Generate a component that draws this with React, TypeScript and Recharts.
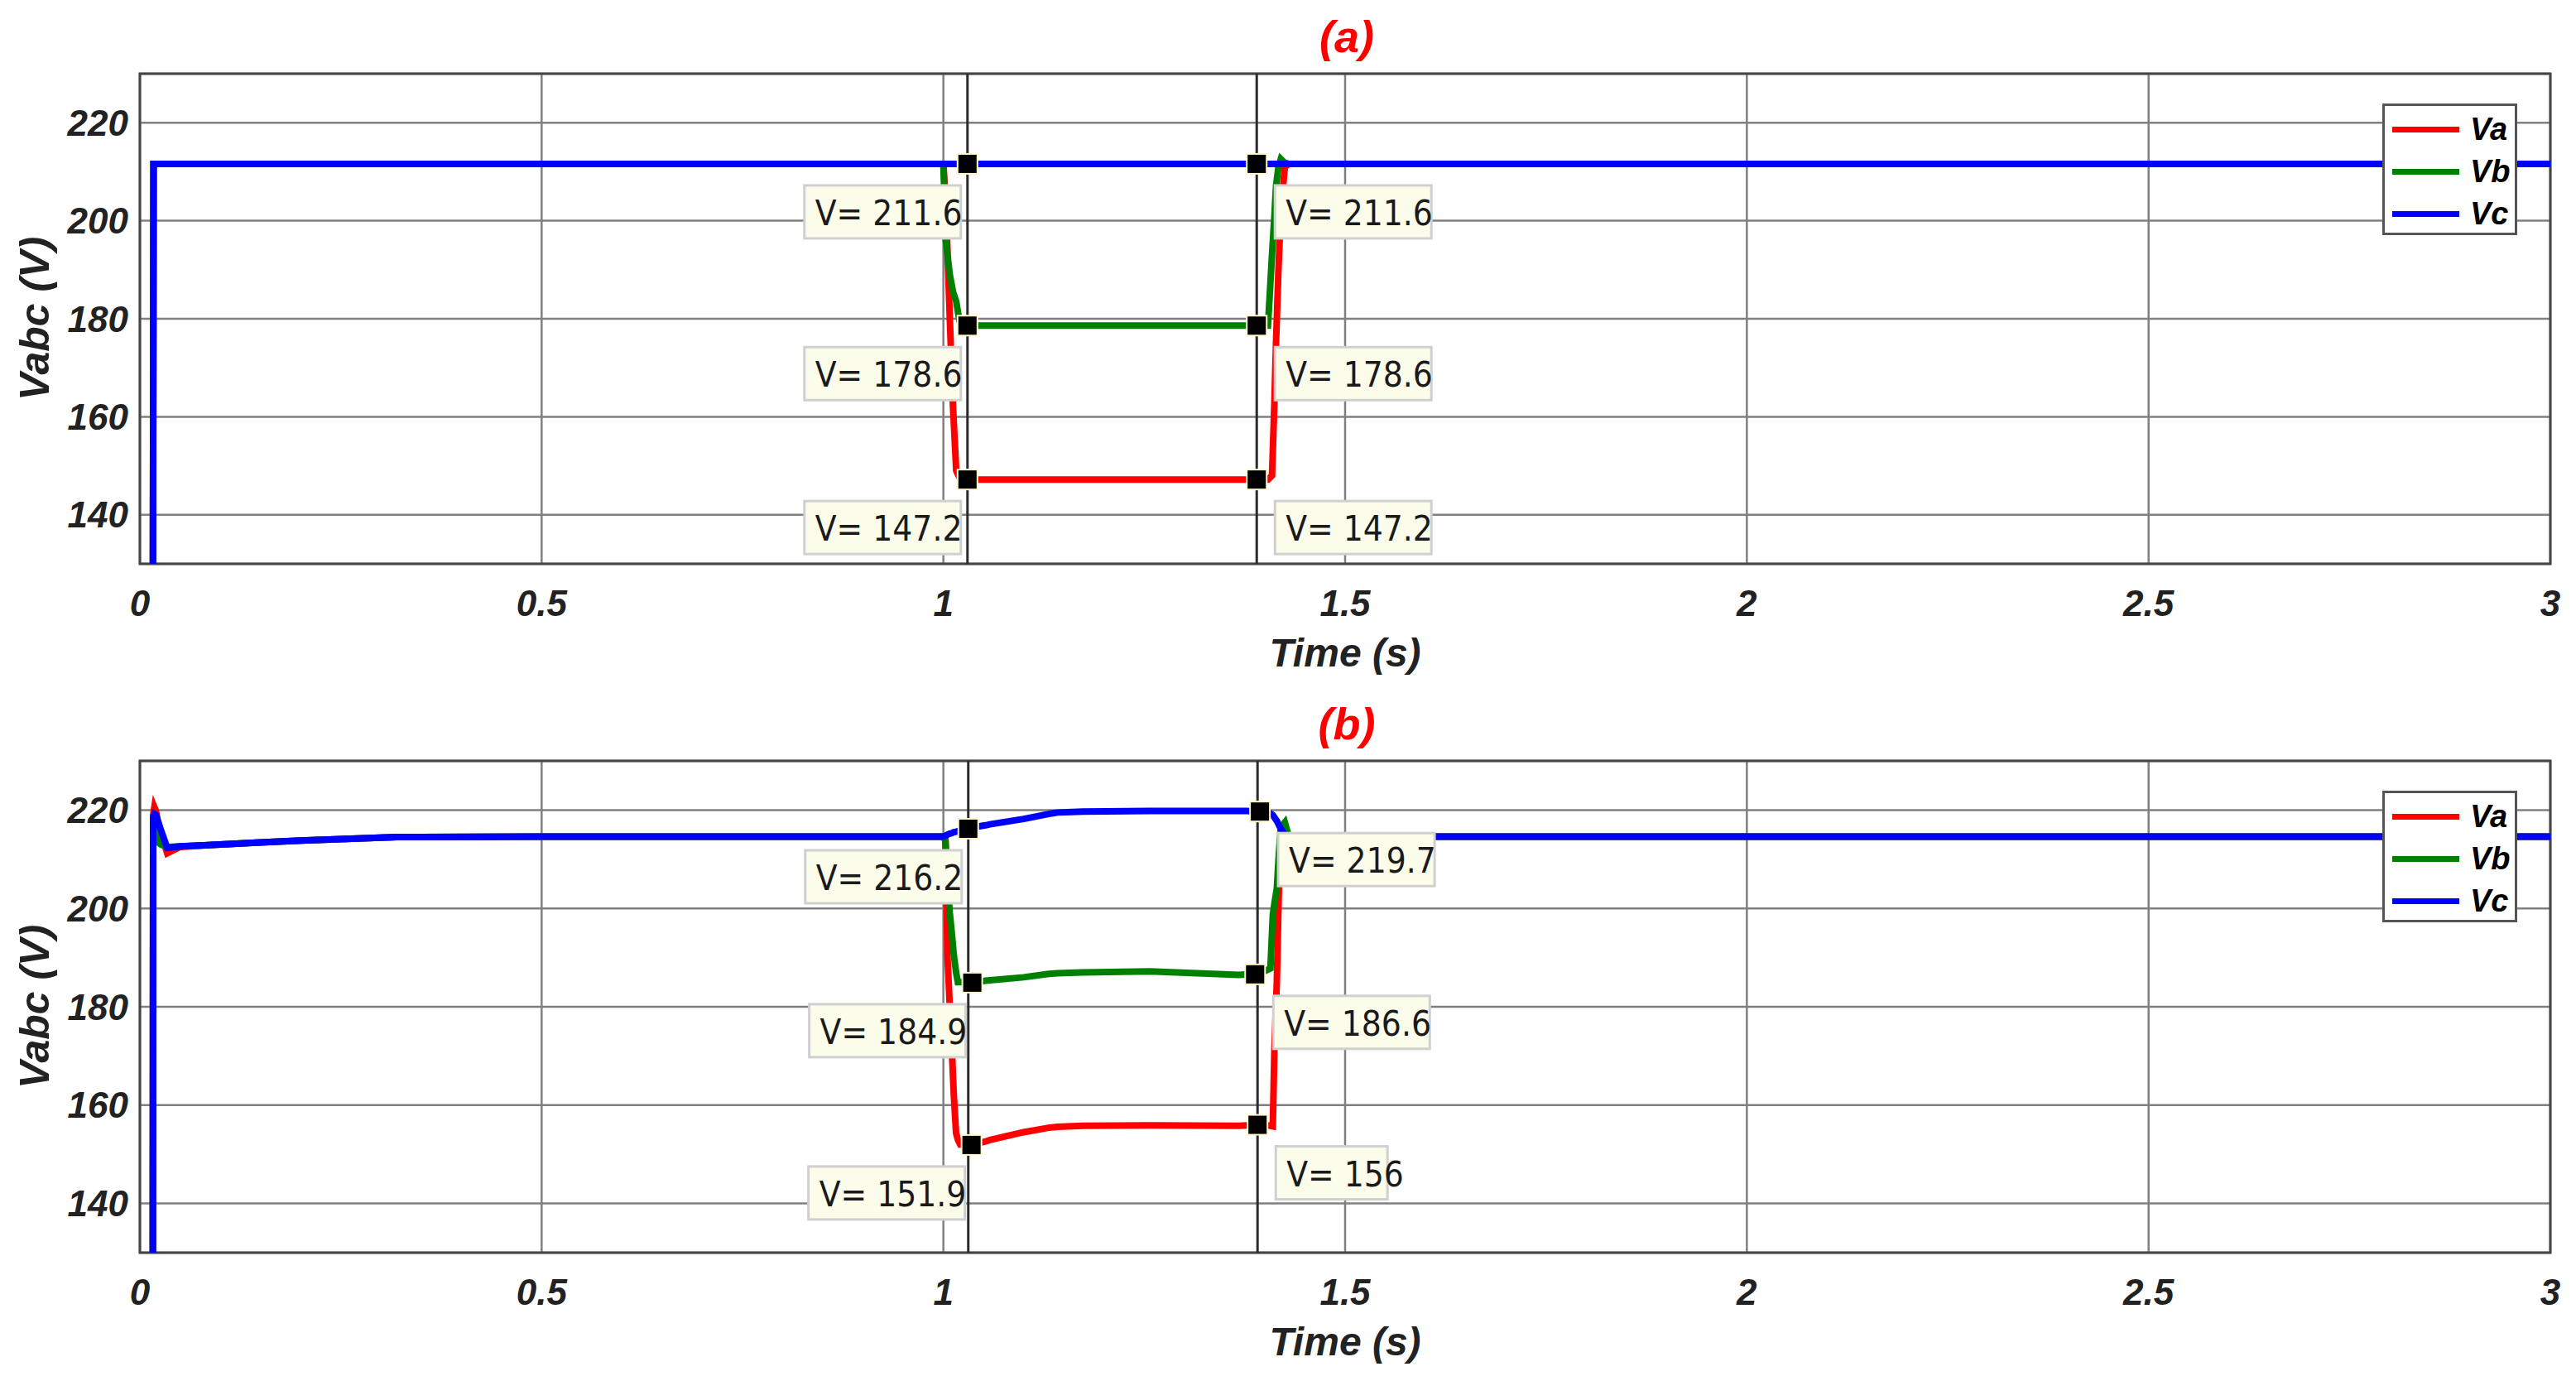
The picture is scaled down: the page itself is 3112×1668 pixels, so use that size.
import React from "react";
import {
  LineChart,
  Line,
  XAxis,
  YAxis,
  CartesianGrid,
  ReferenceLine,
  ReferenceDot,
  ReferenceArea,
  Legend,
  Label,
} from "recharts";

// time axis and tick values
const X_TICKS = [0, 0.5, 1, 1.5, 2, 2.5, 3];
const Y_TICKS = [140, 160, 180, 200, 220];

// (a) sampled waveform
const T_A = [0.016, 0.017, 0.5, 1.0, 1.003, 1.008, 1.012, 1.016, 1.02, 1.025, 1.03, 1.39, 1.395, 1.404, 1.409, 1.412, 1.414, 1.417, 1.42, 1.425, 1.43, 3.0];
const VA_A = [100, 211.6, 211.6, 211.6, 204, 180, 162, 149, 147.6, 147.3, 147.2, 147.2, 147.2, 147.2, 148, 163, 175, 190, 202, 211, 211.6, 211.6];
const VB_A = [100, 211.6, 211.6, 211.6, 196, 189, 185.5, 183.5, 179.6, 178.8, 178.6, 178.6, 178.6, 178.6, 193, 201, 207, 211, 212.6, 211.8, 211.6, 211.6];
const VC_A = [100, 211.6, 211.6, 211.6, 211.6, 211.6, 211.6, 211.6, 211.6, 211.6, 211.6, 211.6, 211.6, 211.6, 211.6, 211.6, 211.6, 211.6, 211.6, 211.6, 211.6, 211.6];

// (b) sampled waveform
const T_B = [0.016, 0.0165, 0.018, 0.02, 0.022, 0.026, 0.034, 0.05, 0.1, 0.15, 0.2, 0.25, 0.32, 0.5, 1.0, 1.0026, 1.005, 1.008, 1.0105, 1.013, 1.0158, 1.018, 1.021, 1.031, 1.035, 1.037, 1.0525, 1.058, 1.1, 1.131, 1.142, 1.173, 1.257, 1.368, 1.378, 1.3876, 1.391, 1.394, 1.407, 1.41, 1.412, 1.415, 1.4175, 1.42, 1.425, 1.43, 3.0];
const VA_B = [100, 219, 220.6, 219.8, 218, 215.5, 211.2, 212.5, 213.0, 213.4, 213.8, 214.1, 214.5, 214.6, 214.6, 214.0, 190.5, 180, 171.4, 162, 154.3, 153, 152, 151.9, 151.9, 152, 152.6, 152.9, 154.5, 155.4, 155.6, 155.8, 155.9, 155.8, 155.9, 156, 156, 156, 155.8, 155.7, 171.4, 185, 203.5, 212.4, 214.6, 214.6, 214.6];
const VB_B = [100, 218, 219, 217, 213.5, 213, 212.5, 212.6, 213, 213.4, 213.8, 214.1, 214.5, 214.6, 214.6, 213.7, 206, 199, 195, 190.5, 187, 185, 185, 185, 184.9, 184.9, 185.3, 185.4, 186, 186.7, 186.8, 187, 187.2, 186.5, 186.6, 186.6, 186.7, 186.8, 187.8, 198.7, 201, 204, 211, 216.5, 217.5, 214.6, 214.6];
const VC_B = [100, 218.5, 219.2, 219, 218, 216, 212.3, 212.6, 213.0, 213.4, 213.8, 214.1, 214.5, 214.6, 214.6, 214.8, 215, 215.2, 215.3, 215.5, 215.6, 215.7, 215.9, 216.2, 216.4, 216.5, 216.9, 217.1, 218.2, 219.2, 219.5, 219.7, 219.8, 219.8, 219.8, 219.7, 219.7, 219.7, 219.3, 219.0, 218.5, 217.8, 217, 216.2, 215, 214.6, 214.6];

// data tips
const TIP_T_A = [1.03, 1.03, 1.03, 1.39, 1.39, 1.39];
const TIP_V_A = [211.6, 178.6, 147.2, 211.6, 178.6, 147.2];
const CURSOR_A = [1.03, 1.39];
const TIP_T_B = [1.031, 1.036, 1.035, 1.394, 1.388, 1.391];
const TIP_V_B = [216.2, 184.9, 151.9, 219.7, 186.6, 156];
const CURSOR_B = [1.031, 1.391];

const FONT = "'Liberation Sans', Arial, sans-serif";
const TIP_FONT = "'DejaVu Sans Condensed', 'DejaVu Sans', sans-serif";

function XTick({ x, y, payload }: any) {
  return (
    <text x={x} y={y + 47} textAnchor="middle" dominantBaseline="central" fontFamily={FONT}
      fontWeight="bold" fontStyle="italic" fontSize={44} fill="#222">
      {String(payload.value)}
    </text>
  );
}

function YTick({ x, y, payload }: any) {
  return (
    <text x={x - 14} y={y} textAnchor="end" dominantBaseline="central" fontFamily={FONT}
      fontWeight="bold" fontStyle="italic" fontSize={44} fill="#222">
      {String(payload.value)}
    </text>
  );
}

function tipShape(v: number, right: boolean) {
  return (p: any) => {
    const { cx, cy } = p;
    const txt = `V= ${v}`;
    const w = 27 * (txt.length - 1);
    const bx = right ? cx + 22 : cx - 8 - w;
    const by = cy + 26;
    return (
      <g>
        <rect x={bx} y={by} width={w} height={64} fill="#fcfcea" stroke="#d0d0d0" strokeWidth={3} />
        <text x={bx + 13} y={by + 48} fontFamily={TIP_FONT} fontStretch="condensed" fontSize={42} fill="#1a1a1a">
          {txt}
        </text>
        <rect x={cx - 12} y={cy - 12} width={24} height={24} fill="#000" stroke="#fff8c8" strokeWidth={2} />
      </g>
    );
  };
}

function LegendBox({ payload }: any) {
  return (
    <div style={{ width: 163, height: 159, boxSizing: "border-box", border: "3px solid #555", background: "#fff", position: "relative" }}>
      {(payload || []).map((e: any, i: number) => (
        <div key={e.value} style={{ position: "absolute", left: 9, top: 28 + 51 * i - 20, height: 40, display: "flex", alignItems: "center" }}>
          <span style={{ display: "inline-block", width: 81, height: 7, background: e.color }} />
          <span style={{ marginLeft: 13, fontFamily: FONT, fontWeight: "bold", fontStyle: "italic", fontSize: 38, color: "#000" }}>
            {e.value}
          </span>
        </div>
      ))}
    </div>
  );
}

function Panel({ t, va, vb, vc, tipT, tipV, cursors, height, title }: any) {
  const rows = t.map((x: number, i: number) => ({ t: x, va: va[i], vb: vb[i], vc: vc[i] }));
  const axisH = height - 89 - 592 - (height > 832 ? 2 : 0);
  return (
    <div style={{ position: "relative", width: 3112, height }}>
      <div style={{ position: "absolute", left: 1527, top: 14, width: 200, textAlign: "center", lineHeight: "60px",
        fontFamily: FONT, fontWeight: "bold", fontStyle: "italic", fontSize: 54, color: "#ff0000" }}>
        {title}
      </div>
      <LineChart width={3112} height={height} data={rows} margin={{ top: 89, right: 31, left: 0, bottom: 0 }}>
        <CartesianGrid stroke="#808080" strokeWidth={2.5} />
        <XAxis dataKey="t" type="number" domain={[0, 3]} ticks={X_TICKS} allowDataOverflow
          tick={<XTick />} tickSize={0} tickMargin={0} axisLine={false} height={axisH}>
          <Label content={(p: any) => {
            const vb2 = p.viewBox;
            return (
              <text x={vb2.x + vb2.width / 2} y={vb2.y + 107} textAnchor="middle" dominantBaseline="central"
                fontFamily={FONT} fontWeight="bold" fontStyle="italic" fontSize={48} fill="#222">
                Time (s)
              </text>
            );
          }} />
        </XAxis>
        <YAxis type="number" domain={[130, 230]} ticks={Y_TICKS} allowDataOverflow width={169}
          tick={<YTick />} tickSize={0} tickMargin={0} axisLine={false}>
          <Label content={(p: any) => {
            const vb2 = p.viewBox;
            const cy = vb2.y + vb2.height / 2;
            return (
              <text x={42} y={cy} textAnchor="middle" dominantBaseline="central" transform={`rotate(-90 42 ${cy})`}
                fontFamily={FONT} fontWeight="bold" fontStyle="italic" fontSize={50} fill="#222">
                Vabc (V)
              </text>
            );
          }} />
        </YAxis>
        {cursors.map((c: number) => (
          <ReferenceLine key={c} x={c} stroke="#2b2b2b" strokeWidth={3} />
        ))}
        <Legend layout="horizontal" align="center" verticalAlign="middle" content={<LegendBox />}
          wrapperStyle={{ position: "absolute", left: 2878, top: 125, width: 163, height: 159 }} />
        <Line type="linear" dataKey="va" name="Va" stroke="#ff0000" strokeWidth={8} dot={false} isAnimationActive={false} />
        <Line type="linear" dataKey="vb" name="Vb" stroke="#008000" strokeWidth={8} dot={false} isAnimationActive={false} />
        <Line type="linear" dataKey="vc" name="Vc" stroke="#0000ff" strokeWidth={8} dot={false} isAnimationActive={false} />
        <ReferenceArea x1={0} x2={3} y1={130} y2={230} fill="none" stroke="#444" strokeWidth={3} />
        {tipT.map((x: number, i: number) => (
          <ReferenceDot key={i} x={x} y={tipV[i]} r={12} shape={tipShape(tipV[i], x > 1.2)} />
        ))}
      </LineChart>
    </div>
  );
}

export default function App() {
  return (
    <div style={{ position: "absolute", left: 0, top: 0, width: 3112, height: 1668, background: "#fff" }}>
      <Panel t={T_A} va={VA_A} vb={VB_A} vc={VC_A} tipT={TIP_T_A} tipV={TIP_V_A} cursors={CURSOR_A} height={830} title="(a)" />
      <Panel t={T_B} va={VA_B} vb={VB_B} vc={VC_B} tipT={TIP_T_B} tipV={TIP_V_B} cursors={CURSOR_B} height={838} title="(b)" />
    </div>
  );
}
